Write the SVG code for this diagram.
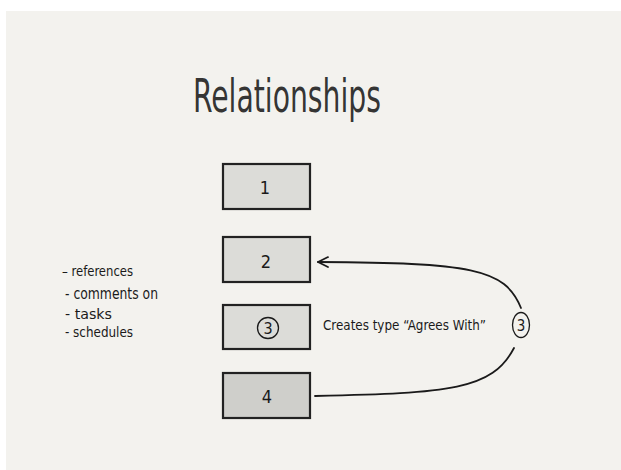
<svg xmlns="http://www.w3.org/2000/svg" width="621" height="470" viewBox="0 0 621 470">
  <style>
    .hand { font-family: "Liberation Sans Narrow", "DejaVu Sans Condensed", "Liberation Sans", sans-serif; fill: #1a1a1a; }
    .box { stroke: #222; stroke-width: 2.2; }
    .lt { fill: #dcdcd8; }
    .dk { fill: #cfcfcb; }
    .line { fill: none; stroke: #1a1a1a; stroke-width: 1.8; stroke-linecap: round; }
  </style>
  <defs>
    <marker id="arrow" viewBox="0 0 12 12" refX="11" refY="6" markerWidth="12" markerHeight="12" markerUnits="userSpaceOnUse" orient="auto">
      <path d="M1 1 L11 6 L1 11" fill="none" stroke="#1a1a1a" stroke-width="1.8" stroke-linecap="round" stroke-linejoin="round"/>
    </marker>
  </defs>

  <rect width="621" height="470" fill="#ffffff"/>
  <rect x="6" y="11" width="615" height="459" fill="#f3f2ee"/>

  <text class="hand" x="193" y="112" font-size="46" textLength="188" lengthAdjust="spacingAndGlyphs" fill-opacity="0.9">Relationships</text>

  <g id="node-1">
    <rect class="box lt" x="223" y="164" width="87" height="45"/>
    <text class="hand" x="265" y="194" font-size="18" text-anchor="middle">1</text>
  </g>
  <g id="node-2">
    <rect class="box lt" x="223" y="237" width="87" height="45"/>
    <text class="hand" x="266" y="268" font-size="18" text-anchor="middle">2</text>
  </g>
  <g id="node-3">
    <rect class="box lt" x="223" y="305" width="87" height="44"/>
    <circle cx="268" cy="328" r="10.5" fill="none" stroke="#1a1a1a" stroke-width="1.3"/>
    <text class="hand" x="268" y="334" font-size="16" text-anchor="middle">3</text>
  </g>
  <g id="node-4">
    <rect class="box dk" x="223" y="373" width="87" height="45"/>
    <text class="hand" x="267" y="403" font-size="18" text-anchor="middle">4</text>
  </g>

  <g id="list">
    <text class="hand" x="62" y="276" font-size="14" textLength="71" lengthAdjust="spacingAndGlyphs">– references</text>
    <text class="hand" x="65" y="299" font-size="15" textLength="93" lengthAdjust="spacingAndGlyphs">- comments on</text>
    <text class="hand" x="65" y="319" font-size="14" textLength="47" lengthAdjust="spacingAndGlyphs">- tasks</text>
    <text class="hand" x="65" y="337" font-size="14" textLength="68" lengthAdjust="spacingAndGlyphs">- schedules</text>
  </g>

  <g id="marker-3">
    <ellipse cx="521" cy="325" rx="8.5" ry="12.5" fill="none" stroke="#1a1a1a" stroke-width="1.3"/>
    <text class="hand" x="521" y="331" font-size="15" text-anchor="middle">3</text>
  </g>

  <g id="connectors">
    <path class="line" d="M521 308 C 505 268, 470 263, 318 262" marker-end="url(#arrow)"/>
    <path class="line" d="M514 348 C 492 390, 450 393, 315 396"/>
    <text class="hand" x="323" y="330" font-size="14" textLength="163" lengthAdjust="spacingAndGlyphs">Creates type “Agrees With”</text>
  </g>
</svg>
